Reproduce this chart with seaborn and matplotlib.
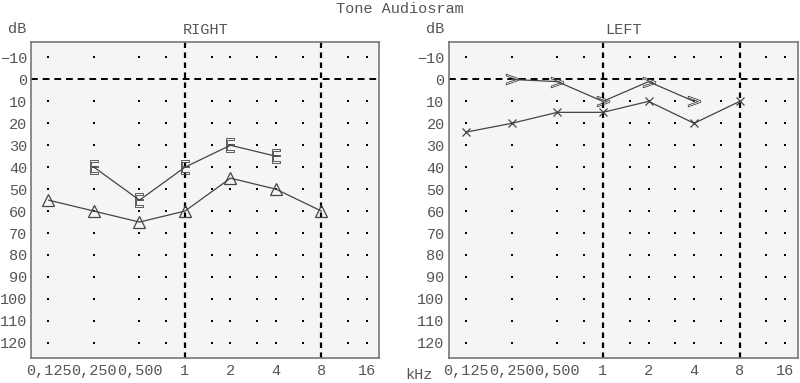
"""Tone audiogram, right and left ear."""
import matplotlib
matplotlib.use('Agg')
import matplotlib.pyplot as plt
import pandas as pd
import seaborn as sns

# frequencies in kHz
freqs = [0.125, 0.25, 0.5, 1, 2, 4, 8, 16]
freq_labels = ['0,125', '0,250', '0,500', '1', '2', '4', '8', '16']
db_ticks = list(range(-10, 130, 10))

# dot grid columns / rows
dot_cols = [0.125, 0.25, 0.5, 0.75, 1.5, 2, 3, 4, 6, 12, 16]
dot_rows = [-10, 10, 20, 30, 40, 50, 60, 70, 80, 90, 100, 110, 120]

# right ear
right_tri_f = [0.125, 0.25, 0.5, 1, 2, 4, 8]
right_tri_db = [55, 60, 65, 60, 45, 50, 60]
right_e_f = [0.25, 0.5, 1, 2, 4]
right_e_db = [40, 55, 40, 30, 35]

# left ear
left_gt_f = [0.25, 0.5, 1, 2, 4]
left_gt_db = [0, 1, 10, 1, 10]
left_x_f = [0.125, 0.25, 0.5, 1, 2, 4, 8]
left_x_db = [24, 20, 15, 15, 10, 20, 10]

sns.set_style('white')
plt.rcParams['font.family'] = ['Liberation Mono', 'DejaVu Sans Mono']
text_color = '#555555'
line_color = '#444444'

fig = plt.figure(figsize=(8, 3.83), dpi=100)
ax_r = fig.add_axes([0.039, 0.065, 0.435, 0.825])
ax_l = fig.add_axes([0.561, 0.065, 0.436, 0.825])

dots = pd.DataFrame([(f, d) for f in dot_cols for d in dot_rows],
                    columns=['f', 'db'])

for ax, title in [(ax_r, 'RIGHT'), (ax_l, 'LEFT')]:
    ax.set_xscale('log', base=2)
    ax.set_facecolor('#f5f5f5')
    sns.scatterplot(data=dots, x='f', y='db', ax=ax, color='black',
                    s=4, marker='s', linewidth=0, zorder=2)
    ax.axhline(0, color='black', lw=1.4, ls=(0, (3.5, 2.5)), zorder=1)
    for f in [1, 8]:
        ax.axvline(f, color='black', lw=1.6, ls=(0, (2.5, 2)), zorder=1)
    ax.set_xlim(0.125 * 2 ** -0.38, 16 * 2 ** 0.27)
    ax.set_ylim(127, -17)
    ax.set_xticks(freqs)
    ax.set_xticklabels(freq_labels)
    ax.xaxis.set_minor_locator(matplotlib.ticker.NullLocator())
    ax.set_yticks(db_ticks)
    ax.tick_params(length=0, labelsize=11, labelcolor=text_color, pad=3)
    ax.tick_params(axis='x', pad=4)
    for sp in ax.spines.values():
        sp.set_color('#777777')
        sp.set_linewidth(1.2)
    ax.set_xlabel('')
    ax.set_ylabel('')
    ax.set_title(title, fontsize=11, color=text_color, pad=6)
    ax.text(-0.04, 1.02, 'dB', transform=ax.transAxes, fontsize=11,
            color=text_color, ha='center', va='bottom')

line_kw = dict(color=line_color, lw=0.9, markerfacecolor='none',
               markeredgecolor=line_color, zorder=3)

sns.lineplot(x=right_tri_f, y=right_tri_db, ax=ax_r, marker='^',
             markersize=9, markeredgewidth=0.9, **line_kw)
sns.lineplot(x=right_e_f, y=right_e_db, ax=ax_r, marker=r'$\mathrm{E}$',
             markersize=10, markeredgewidth=0.6, **line_kw)
sns.lineplot(x=left_gt_f, y=left_gt_db, ax=ax_l, marker=r'$>$',
             markersize=9, markeredgewidth=0.6, **line_kw)
sns.lineplot(x=left_x_f, y=left_x_db, ax=ax_l, marker='x',
             markersize=6, markeredgewidth=0.9, **line_kw)

ax_l.text(-0.085, -0.03, 'kHz', transform=ax_l.transAxes, fontsize=11,
          color=text_color, ha='center', va='top')
fig.text(0.5, 0.995, 'Tone Audiosram', fontsize=11, color=text_color,
         ha='center', va='top')

fig.savefig('out.png', dpi=100)
